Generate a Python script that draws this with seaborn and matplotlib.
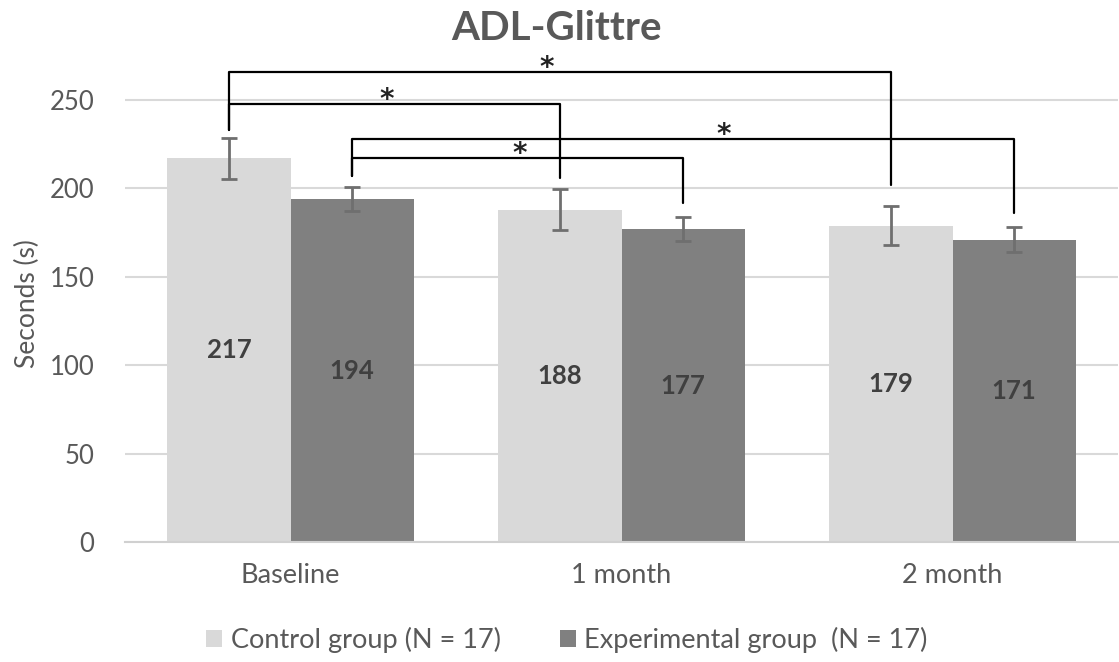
import numpy as np
import pandas as pd
import matplotlib
matplotlib.use('Agg')
import matplotlib.pyplot as plt
import seaborn as sns

# Data
timepoints = ['Baseline', '1 month', '2 month']
groups = ['Control group (N = 17)', 'Experimental group  (N = 17)']
control_mean = [217, 188, 179]
experimental_mean = [194, 177, 171]
control_err = [11.5, 11.5, 11]
experimental_err = [6.7, 7, 7]

# Significance brackets: (group, timepoint) -> (group, timepoint)
sig_pairs = [((0, 0), (0, 2)), ((0, 0), (0, 1)), ((1, 0), (1, 2)), ((1, 0), (1, 1))]
sig_level = [265.7, 247.6, 228, 217]
sig_left_end = [233, 233, 207, 207]
sig_right_end = [202, 206, 186, 192]
star_pos = [0.48, 0.477, 0.562, 0.506]  # where the * sits along each bracket

colors = ['#d9d9d9', '#808080']
text_color = '#595959'

sns.set_style('white')
plt.rcParams['font.family'] = ['Lato', 'DejaVu Sans']

df = pd.DataFrame({
    'Time': timepoints * 2,
    'Group': [groups[0]] * 3 + [groups[1]] * 3,
    'Seconds': control_mean + experimental_mean,
})

fig = plt.figure(figsize=(11.19, 6.62), dpi=100)
ax = fig.add_axes([125 / 1119, 120 / 662, 993 / 1119, 270 * 1.768 / 662])

sns.barplot(data=df, x='Time', y='Seconds', hue='Group', hue_order=groups,
            order=timepoints, palette=colors, width=0.744, gap=0,
            saturation=1, errorbar=None, edgecolor='none', ax=ax)

# error bars and value labels
errs = [control_err, experimental_err]
bar_containers = list(ax.containers)
centers = []
for k, cont in enumerate(bar_containers):
    xs = [p.get_x() + p.get_width() / 2 for p in cont]
    ys = [p.get_height() for p in cont]
    centers.append(xs)
    ax.errorbar(xs, ys, yerr=errs[k], fmt='none', ecolor='#6f6f6f',
                elinewidth=2, capsize=5.5, capthick=2, zorder=3)
    ax.bar_label(cont, labels=[f'{v:.0f}' for v in ys], label_type='center',
                 fontsize=18.5, fontweight='bold', color='#404040')

# significance brackets
for (a, b), lvl, le, re, f in zip(sig_pairs, sig_level, sig_left_end,
                                   sig_right_end, star_pos):
    x1 = centers[a[0]][a[1]]
    x2 = centers[b[0]][b[1]]
    ax.plot([x1, x1, x2, x2], [le, lvl, lvl, re], color='black', lw=1.6,
            clip_on=False, zorder=4)
    ax.text(x1 + f * (x2 - x1), lvl - 2.3, '*', ha='center', va='baseline',
            fontsize=20, fontweight='bold', color='#222222',
            family='DejaVu Sans', clip_on=False)

ax.set_ylim(0, 270)
ax.set_xlim(-0.5, 2.5)
ax.set_yticks(range(0, 251, 50))
ax.yaxis.grid(True, color='#d9d9d9', lw=1.5)
ax.set_axisbelow(True)
for s in ['top', 'right', 'left']:
    ax.spines[s].set_visible(False)
ax.spines['bottom'].set_color('#d0d0d0')
ax.spines['bottom'].set_linewidth(1.5)

ax.set_xticks(range(3))
ax.set_xticklabels(timepoints)
ax.set_xticks([-0.5, 0.5, 1.5, 2.5], minor=True)
ax.tick_params(axis='x', which='major', length=0, pad=15, labelsize=19.5, labelcolor=text_color)
ax.tick_params(axis='x', which='minor', length=6, width=1.5, color='#d0d0d0')
ax.tick_params(axis='y', length=0, pad=22, labelsize=18.5, labelcolor=text_color)

ax.set_xlabel('')
ax.set_ylabel('Seconds (s)', fontsize=19, color=text_color, labelpad=7)

fig.text(0.497, 1 - 29 / 662, 'ADL-Glittre', ha='center', va='center',
         fontsize=29, fontweight='bold', color=text_color)

sns.move_legend(ax, 'center', bbox_to_anchor=(567 / 1119, 1 - 640 / 662),
                bbox_transform=fig.transFigure, ncol=2, frameon=False,
                title=None, fontsize=19.5, handlelength=0.6, handleheight=0.6,
                handletextpad=0.3, columnspacing=2.2, labelcolor=text_color)

fig.savefig('out.png', dpi=100)
